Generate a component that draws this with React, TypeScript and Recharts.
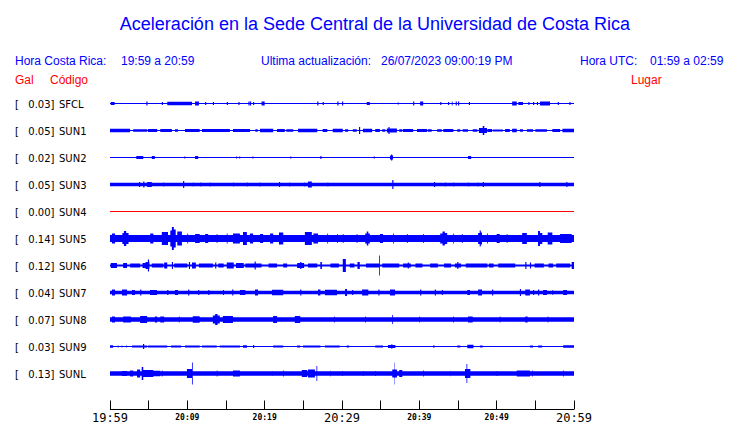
import { Area, ComposedChart, XAxis, YAxis } from 'recharts'

// station codes, places and peak acceleration (Gal) shown beside each trace
const CODES = ['SFCL', 'SUN1', 'SUN2', 'SUN3', 'SUN4', 'SUN5', 'SUN6', 'SUN7', 'SUN8', 'SUN9', 'SUNL']
const PLACES = [
  'Finca El Corralillo, Coronado',
  'CIMAR',
  'Ingenieria P01',
  'Ingenieria P06',
  'EBCI',
  'Rectoria',
  'Agroalimentarias',
  'Archivo',
  'Electrica P06',
  'Electrica P01',
  'LANAMME-CTT',
]
const PEAKS = [0.03, 0.05, 0.02, 0.05, 0.0, 0.14, 0.12, 0.04, 0.07, 0.03, 0.13]

// quiet-level half amplitude of each trace (display units)
const BASE_AMP = [0.5, 0.5, 0.5, 1.8, 0.5, 3.6, 1, 1.7, 2.2, 0.5, 2.2]

// envelope events: [start min, end min, half amplitude]; start == end is a spike
type Ev = [number, number, number]

const SFCL_EV: Ev[] = [
  [0.1, 0.6, 1.5], [4.7, 4.7, 2], [6.7, 6.7, 1.5], [7.4, 10.6, 1.7], [11.0, 11.5, 2], [12.3, 12.3, 1.5],
  [13.3, 13.3, 1.5], [15.1, 15.1, 1.5], [16.6, 16.6, 1.5], [17.9, 17.9, 2], [18.1, 18.1, 2], [18.5, 18.5, 1.5],
  [19.6, 20.0, 2], [26.8, 26.8, 2], [27.5, 27.5, 1.5], [29.4, 29.4, 2], [30.0, 30.0, 2], [33.2, 33.6, 1.5],
  [37.2, 37.2, 1], [39.2, 39.2, 2], [40.1, 40.5, 2], [42.7, 42.7, 1.5], [43.7, 43.7, 1.5], [44.2, 44.3, 2],
  [44.7, 44.7, 2], [45.0, 45.0, 2], [46.4, 46.4, 1.5], [52.0, 52.6, 2], [52.8, 53.4, 1.5], [54.1, 54.1, 1.5],
  [54.7, 54.7, 1.5], [55.2, 55.2, 1.5], [55.6, 56.9, 2], [57.9, 57.9, 1.5], [59.4, 59.4, 1.5],
]
const SUN1_EV: Ev[] = [
  [0, 2.6, 1.8], [3.0, 4.8, 1.2], [4.9, 6.1, 1.5], [6.5, 8.0, 1.5], [8.4, 8.8, 1.2], [9.7, 11.6, 1.5],
  [11.9, 15.5, 1.5], [15.9, 18.1, 1.5], [18.8, 19.1, 1.2], [19.4, 21.1, 1.7], [21.6, 22.6, 1.5], [22.8, 23.7, 1.3],
  [24.3, 26.8, 1.7], [27.5, 28.1, 1.5], [28.8, 30.1, 1.7], [30.4, 30.8, 1.2], [31.4, 31.9, 1.2], [32.2, 32.2, 3.5],
  [32.7, 33.9, 1.7], [34.3, 34.9, 1.5], [35.2, 35.6, 1.2], [35.8, 37.1, 2], [36.0, 36.0, 3.5], [37.4, 37.8, 1.2],
  [37.9, 39.2, 1.5], [39.7, 41.0, 1.5], [41.1, 41.6, 1.2], [42.3, 42.9, 1.2], [43.1, 44.4, 1.5], [44.9, 45.3, 1.2],
  [45.6, 46.3, 1.2], [46.9, 47.5, 1.2], [47.7, 48.75, 2.5], [48.2, 48.4, 4.5], [48.8, 49.4, 1.5], [49.5, 50.8, 1],
  [51.1, 51.7, 1.5], [52.0, 52.6, 1.8], [53.0, 53.4, 1.2], [53.9, 54.7, 1.2], [55.0, 56.5, 1.3], [57.2, 58.2, 1.5],
  [58.5, 60, 1.7],
]
const SUN2_EV: Ev[] = [
  [3.4, 4.3, 1.5], [5.4, 5.8, 1.5], [9.6, 9.6, 1], [11.0, 11.4, 1.5], [16.3, 16.3, 1], [16.7, 16.7, 1],
  [18.4, 18.4, 1], [23.3, 23.3, 1], [27.2, 27.2, 1.5], [34.1, 34.1, 1], [36.2, 36.6, 2], [36.35, 36.35, 3],
  [46.3, 46.7, 1.5],
]
const SUN3_EV: Ev[] = [
  [3.75, 3.75, 2.5], [4.3, 4.3, 3], [4.8, 5.4, 2.5], [6.85, 6.85, 2], [9.45, 9.45, 3.5], [10.7, 10.7, 2],
  [11.65, 11.65, 2], [12.9, 12.9, 2], [15.9, 15.9, 2], [17.7, 17.7, 2], [19.3, 19.3, 2], [21.85, 21.85, 2.5],
  [23.15, 23.15, 2], [25.1, 25.1, 2], [25.6, 26.1, 3], [28.1, 28.1, 2], [36.5, 36.5, 4.5], [41.9, 41.9, 2.5],
  [43.3, 43.3, 2], [44.35, 44.35, 2], [46.3, 46.3, 2], [47.5, 47.5, 2], [48.2, 48.2, 2.5], [55.5, 55.5, 2.5],
  [59.0, 59.0, 2.5],
]
const SUN4_EV: Ev[] = []
const SUN5_EV: Ev[] = [
  [0.25, 0.65, 5], [1.6, 1.8, 5.5], [1.8, 2.1, 7.5], [2.1, 2.4, 5.5], [5.2, 5.6, 5], [6.7, 7.5, 6.5],
  [7.8, 8.0, 8], [8.0, 8.25, 11.5], [8.25, 8.5, 9], [8.7, 9.3, 7],
  [10.0, 10.1, 5], [11.0, 11.6, 4.5], [12.3, 12.7, 4.5], [13.8, 13.9, 4.5], [15.1, 15.2, 5], [15.9, 16.8, 5],
  [17.2, 17.7, 6.5], [18.1, 18.5, 5], [19.4, 19.8, 4.5], [20.7, 21.1, 5], [21.85, 22.4, 6], [25.2, 26.1, 6.5],
  [26.3, 26.9, 5], [28.1, 28.2, 5], [29.35, 29.45, 4.5], [30.1, 30.2, 4.5], [31.9, 32.0, 4.5],
  [33.0, 33.2, 5], [33.2, 33.4, 7], [33.4, 33.6, 5],
  [34.9, 35.3, 4.5], [36.6, 36.7, 5], [38.4, 38.5, 4.5], [40.5, 40.6, 4.5],
  [42.7, 43.0, 5], [43.0, 43.3, 7], [43.3, 43.6, 5.5], [44.35, 44.45, 5],
  [45.5, 45.6, 4.5], [47.6, 47.8, 5.5], [47.8, 47.95, 8], [47.95, 48.1, 6], [48.75, 48.85, 5], [50.0, 50.4, 4.5],
  [51.3, 51.4, 4.5], [53.3, 53.9, 5.5], [55.35, 55.6, 7.5], [55.6, 55.9, 5.5], [56.6, 57.2, 6], [58.2, 59.7, 4.5],
]
const SUN6_EV: Ev[] = [
  [0.1, 0.9, 2.5], [1.7, 2.2, 2.5], [2.6, 3.9, 2], [4.2, 4.6, 2.5], [4.6, 5.1, 3.5], [4.9, 4.9, 6], [5.4, 6.9, 2],
  [7.0, 7.4, 3], [8.0, 8.0, 3.5], [8.3, 10.0, 2], [10.2, 10.2, 3.5], [10.6, 11.1, 3], [11.5, 13.3, 2],
  [13.6, 13.6, 3], [14.0, 14.7, 2], [15.1, 16.0, 3], [16.3, 17.3, 2.5], [17.5, 19.6, 2], [18.7, 18.7, 4],
  [20.5, 21.6, 2], [22.4, 22.9, 2], [24.2, 25.1, 2.5], [24.6, 24.6, 3.5], [25.6, 26.8, 2], [27.2, 27.4, 3.5],
  [28.5, 29.6, 2], [30.1, 30.5, 6.5], [31.0, 31.6, 2], [32.0, 32.3, 3.5], [33.1, 34.8, 2], [34.8, 34.9, 10],
  [35.2, 37.4, 2], [37.9, 38.9, 2], [38.5, 38.5, 3], [39.5, 40.4, 2], [41.4, 42.4, 2], [43.2, 44.1, 2],
  [44.6, 45.4, 2], [44.9, 44.9, 3.5], [46.0, 48.8, 2], [49.0, 49.6, 2], [50.2, 52.4, 2], [53.7, 53.7, 3.5],
  [54.3, 54.3, 3], [54.9, 56.1, 2], [56.7, 57.3, 2], [57.7, 59.5, 2], [59.7, 60, 3.5],
]
const SUN7_EV: Ev[] = [
  [0.26, 0.65, 3], [1.55, 2.2, 3], [2.84, 3.23, 2.5], [3.9, 3.9, 3], [5.17, 6.08, 2.5], [7.4, 7.4, 2.5],
  [8.4, 8.8, 2.5], [10.1, 10.1, 3], [11.4, 11.4, 2.5], [12.7, 12.7, 2.5], [14.6, 14.6, 2.5], [15.8, 15.8, 3],
  [16.8, 17.5, 2.5], [18.75, 19.14, 3], [20.95, 22.4, 2.8], [24.6, 24.6, 3], [26.9, 27.2, 3], [27.8, 29.35, 2.8],
  [30.4, 30.65, 3.5], [31.3, 31.3, 2.5], [32.6, 33.4, 3], [34.7, 34.7, 3], [36.2, 36.85, 3], [40.1, 40.1, 3],
  [42.0, 42.0, 3], [42.9, 42.9, 2.5], [46.2, 46.55, 2.5], [47.6, 48.1, 3], [49.4, 49.4, 3], [53.0, 53.0, 3.5],
  [53.7, 54.3, 3], [54.7, 54.7, 2.5], [55.35, 55.35, 3], [56.0, 56.5, 2.5], [57.2, 57.3, 2.5], [58.6, 59.1, 2.5],
]
const SUN8_EV: Ev[] = [
  [0.26, 0.65, 3], [1.7, 2.7, 3], [3.9, 4.8, 3.5], [5.8, 6.1, 3], [6.5, 7.0, 3], [8.9, 9.0, 3],
  [10.7, 11.6, 3.2], [13.3, 13.6, 4], [13.6, 13.9, 5.5], [13.9, 14.2, 4], [14.6, 15.9, 3.5], [21.1, 21.6, 3.5],
  [23.9, 24.6, 3.5], [29.0, 29.1, 3],
  [33.0, 33.1, 3], [36.5, 36.6, 4.5], [40.0, 40.1, 3], [44.35, 44.45, 3], [46.3, 46.9, 3], [50.4, 50.5, 3],
  [53.7, 54.0, 3], [56.6, 56.7, 3],
]
const SUN9_EV: Ev[] = [
  [0, 0.4, 1.2], [1.0, 1.1, 1], [1.5, 1.6, 1], [2.1, 2.2, 1], [2.84, 4.8, 1], [4.27, 4.27, 2.5],
  [4.9, 7.4, 1], [7.9, 9.2, 1], [9.7, 11.6, 1], [11.9, 13.8, 1], [14.2, 16.8, 1], [17.2, 17.7, 1.2],
  [18.5, 18.5, 1.5], [21.1, 22.4, 1], [24.2, 24.6, 1], [24.96, 27.2, 1], [27.8, 29.7, 1], [30.6, 30.9, 1],
  [34.3, 35.3, 1], [35.95, 36.9, 1.5], [36.4, 36.5, 2.5], [41.8, 41.8, 1.2], [44.9, 45.3, 1], [46.2, 47.0, 1.8],
  [47.85, 48.2, 1], [54.3, 54.7, 1], [55.35, 55.9, 1], [58.6, 60, 1.3],
]
const SUNL_EV: Ev[] = [
  [1.55, 2.2, 2.5], [2.6, 3.0, 3], [3.5, 3.9, 4], [4.1, 4.3, 6.5], [4.3, 5.6, 3.5], [5.6, 6.5, 2.8],
  [6.7, 6.8, 3], [9.95, 10.7, 4.5], [10.6, 10.7, 11], [13.8, 13.9, 3], [15.9, 16.8, 3], [20.95, 21.0, 2.5],
  [22.4, 22.5, 3], [24.8, 25.5, 3.5], [25.6, 26.5, 4], [26.7, 26.8, 7.5], [28.45, 28.5, 3], [30.0, 30.1, 2.5],
  [32.7, 32.8, 2.5], [34.3, 34.4, 2.5], [36.5, 37.1, 4], [36.75, 36.8, 11], [37.4, 37.8, 3.5], [40.5, 40.6, 3],
  [43.97, 44.0, 3], [45.9, 46.6, 4.5], [46.1, 46.2, 9.5], [50.0, 50.1, 2.5], [52.6, 54.3, 3], [54.6, 54.7, 3],
  [58.6, 58.7, 3],
]

const EVENTS = [SFCL_EV, SUN1_EV, SUN2_EV, SUN3_EV, SUN4_EV, SUN5_EV, SUN6_EV, SUN7_EV, SUN8_EV, SUN9_EV, SUNL_EV]

// x axis: minutes after 19:59
const TIME_TICKS = [0, 5, 10, 15, 20, 25, 30, 35, 40, 45, 50, 55, 60]
const TIME_LABELS: Record<number, string> = {
  0: '19:59', 10: '20:09', 20: '20:19', 30: '20:29', 40: '20:39', 50: '20:49', 60: '20:59',
}
const BIG_LABELS = [0, 30, 60]

const BLUE = '#0000ff'
const RED = '#ff0000'
const ROW_GAP = 27
const FIRST_ROW = 15.5
const SPIKE_W = 0.15
const centers = CODES.map((_, i) => FIRST_ROW + i * ROW_GAP)

function envelope(events: Ev[], base: number, center: number) {
  const spans = events.map(([a, b, h]) => [a, b > a ? b : a + SPIKE_W, h])
  const cuts = Array.from(new Set([0, 60, ...spans.flatMap(s => [s[0], Math.min(60, s[1])])])).sort((a, b) => a - b)
  return cuts.map(t => {
    let amp = base
    for (const [a, b, h] of spans) if (t >= a && t < b) amp = Math.max(amp, h)
    return { t, range: [center - amp, center + amp] }
  })
}

const mono = '"DejaVu Sans Mono", monospace'
const sans = '"DejaVu Sans", sans-serif'
const helv = '"Liberation Sans", Arial, sans-serif'

function TimeTick(props: any) {
  const { x, y, payload } = props
  const v = payload.value
  const px = Math.floor(x) + 0.5
  const label = TIME_LABELS[v]
  const big = BIG_LABELS.includes(v)
  return (
    <g>
      <line x1={px} x2={px} y1={y - 9} y2={y} stroke="#000" strokeWidth={1} />
      {label && (
        <text
          x={x}
          y={y + (big ? 12 : 10)}
          textAnchor="middle"
          fontFamily={mono}
          fontSize={big ? 12 : 8}
          fontWeight={big ? 400 : 700}
          fill="#000"
        >
          {label}
        </text>
      )}
    </g>
  )
}

function CodeTick(props: any) {
  const { y, index } = props
  return (
    <g fontFamily={sans} fontSize={10} fill="#000">
      <text x={15} y={y + 4}>[</text>
      <text x={54.5} y={y + 4} textAnchor="end">{PEAKS[index].toFixed(2)}]</text>
      <text x={59} y={y + 4}>{CODES[index]}</text>
    </g>
  )
}

function PlaceTick(props: any) {
  const { x, y, index } = props
  return (
    <text x={x + 13} y={y + 4} fontFamily={sans} fontSize={10} fill="#000">
      {PLACES[index]}
    </text>
  )
}

export default function App() {
  return (
    <div style={{ position: 'absolute', left: 0, top: 0, width: 740, height: 423, background: '#fff' }}>
      <svg width={740} height={90} style={{ position: 'absolute', left: 0, top: 0 }}>
        <text x={375} y={30} textAnchor="middle" fontFamily={helv} fontSize={18} fill={BLUE}>
          Aceleración en la Sede Central de la Universidad de Costa Rica
        </text>
        <g fontFamily={helv} fontSize={12} fill={BLUE}>
          <text x={15} y={65}>Hora Costa Rica:</text>
          <text x={121} y={65}>19:59 a 20:59</text>
          <text x={261} y={65}>Ultima actualización:</text>
          <text x={381} y={65}>26/07/2023 09:00:19 PM</text>
          <text x={580} y={65}>Hora UTC:</text>
          <text x={650} y={65}>01:59 a 02:59</text>
        </g>
        <g fontFamily={helv} fontSize={12} fill={RED}>
          <text x={15} y={84}>Gal</text>
          <text x={50} y={84}>Código</text>
          <text x={631} y={84}>Lugar</text>
        </g>
      </svg>
      <div style={{ position: 'absolute', left: 0, top: 0 }}>
        <ComposedChart width={740} height={423} margin={{ top: 88, right: 0, bottom: 0, left: 0 }}>
          <XAxis
            type="number"
            dataKey="t"
            domain={[0, 60]}
            ticks={TIME_TICKS}
            allowDataOverflow
            height={13.5}
            tickSize={0}
            tickMargin={0}
            tickLine={false}
            axisLine={{ stroke: '#000' }}
            tick={<TimeTick />}
            interval={0}
          />
          <YAxis
            yAxisId="l"
            type="number"
            domain={[0, 321.5]}
            reversed
            width={110}
            ticks={centers}
            interval={0}
            tickSize={0}
            tickMargin={0}
            axisLine={false}
            tickLine={false}
            tick={<CodeTick />}
          />
          <YAxis
            yAxisId="r"
            orientation="right"
            type="number"
            domain={[0, 321.5]}
            reversed
            width={166}
            ticks={centers}
            interval={0}
            tickSize={0}
            tickMargin={0}
            axisLine={false}
            tickLine={false}
            tick={<PlaceTick />}
          />
          {EVENTS.map((ev, i) => (
            <Area
              key={CODES[i]}
              yAxisId="l"
              data={envelope(ev, BASE_AMP[i], centers[i])}
              dataKey="range"
              type="stepAfter"
              stroke="none"
              fill={CODES[i] === 'SUN4' ? RED : BLUE}
              fillOpacity={1}
              dot={false}
              activeDot={false}
              isAnimationActive={false}
            />
          ))}
        </ComposedChart>
      </div>
    </div>
  )
}
